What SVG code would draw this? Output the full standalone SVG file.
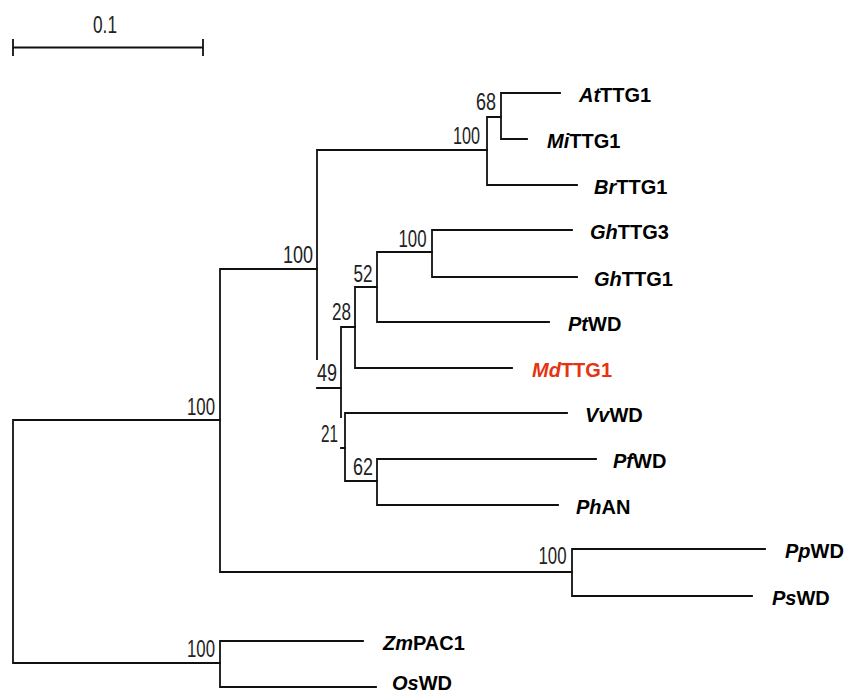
<svg xmlns="http://www.w3.org/2000/svg" width="846" height="695" viewBox="0 0 846 695">
<style>
.ln{fill:none;stroke:#111;stroke-width:1.8;stroke-linecap:square}
.lf{font-family:"Liberation Sans",Arial,sans-serif;font-weight:bold;font-size:20px;fill:#000}
.lf tspan.i{font-style:italic}
.red{fill:#e63312}
.bs{font-family:"Liberation Sans",Arial,sans-serif;font-size:23px;fill:#222}
</style>
<rect width="846" height="695" fill="#fff"/>
<g id="scale">
<path class="ln" d="M13 47.5H203M13 40V55M203 40V55"/>
<text class="bs" x="93" y="32.5" textLength="24" lengthAdjust="spacingAndGlyphs">0.1</text>
</g>
<g id="connectors">
<path class="ln" d="M220 420H13V663H220"/>
<path class="ln" d="M317 269H220V572H572"/>
<path class="ln" d="M487 150H317V359M317 388H341"/>
<path class="ln" d="M501 117H487V185H577"/>
<path class="ln" d="M560 93H501V139H527"/>
<path class="ln" d="M355 327H341V417M341 448H345"/>
<path class="ln" d="M377 287H355V368H512"/>
<path class="ln" d="M432 252H377V322H549"/>
<path class="ln" d="M572 230H432V277H577"/>
<path class="ln" d="M567 413H345V481H377"/>
<path class="ln" d="M596 459H377V505H558"/>
<path class="ln" d="M765 549H572V596H752"/>
<path class="ln" d="M363 641H220V687H376"/>
</g>
<g id="support">
<text class="bs" x="476" y="110" textLength="20" lengthAdjust="spacingAndGlyphs">68</text>
<text class="bs" x="453" y="143.5" textLength="27" lengthAdjust="spacingAndGlyphs">100</text>
<text class="bs" x="283" y="263" textLength="30" lengthAdjust="spacingAndGlyphs">100</text>
<text class="bs" x="398.5" y="246.5" textLength="28" lengthAdjust="spacingAndGlyphs">100</text>
<text class="bs" x="353.5" y="281.5" textLength="19" lengthAdjust="spacingAndGlyphs">52</text>
<text class="bs" x="332" y="320" textLength="19" lengthAdjust="spacingAndGlyphs">28</text>
<text class="bs" x="317" y="381" textLength="20" lengthAdjust="spacingAndGlyphs">49</text>
<text class="bs" x="321" y="441.5" textLength="17" lengthAdjust="spacingAndGlyphs">21</text>
<text class="bs" x="353" y="475" textLength="20" lengthAdjust="spacingAndGlyphs">62</text>
<text class="bs" x="187" y="415" textLength="28" lengthAdjust="spacingAndGlyphs">100</text>
<text class="bs" x="187" y="657" textLength="28" lengthAdjust="spacingAndGlyphs">100</text>
<text class="bs" x="538.5" y="564" textLength="28" lengthAdjust="spacingAndGlyphs">100</text>
</g>
<g id="AtTTG1"><text class="lf" x="579" y="101.5"><tspan class="i">At</tspan>TTG1</text></g>
<g id="MiTTG1"><text class="lf" x="547" y="147.5"><tspan class="i">Mi</tspan>TTG1</text></g>
<g id="BrTTG1"><text class="lf" x="594" y="193.5"><tspan class="i">Br</tspan>TTG1</text></g>
<g id="GhTTG3"><text class="lf" x="590" y="238.5"><tspan class="i">Gh</tspan>TTG3</text></g>
<g id="GhTTG1"><text class="lf" x="594" y="285.5"><tspan class="i">Gh</tspan>TTG1</text></g>
<g id="PtWD"><text class="lf" x="568" y="330.5"><tspan class="i">Pt</tspan>WD</text></g>
<g id="MdTTG1"><text class="lf red" x="532" y="376.5"><tspan class="i">Md</tspan>TTG1</text></g>
<g id="VvWD"><text class="lf" x="585" y="421.5"><tspan class="i">Vv</tspan>WD</text></g>
<g id="PfWD"><text class="lf" x="613" y="467.5"><tspan class="i">Pf</tspan>WD</text></g>
<g id="PhAN"><text class="lf" x="576" y="513.5"><tspan class="i">Ph</tspan>AN</text></g>
<g id="PpWD"><text class="lf" x="785" y="557.5"><tspan class="i">Pp</tspan>WD</text></g>
<g id="PsWD"><text class="lf" x="772" y="604.5"><tspan class="i">Ps</tspan>WD</text></g>
<g id="ZmPAC1"><text class="lf" x="383" y="649.5"><tspan class="i">Zm</tspan>PAC1</text></g>
<g id="OsWD"><text class="lf" x="392" y="690"><tspan class="i">Os</tspan>WD</text></g>
</svg>
